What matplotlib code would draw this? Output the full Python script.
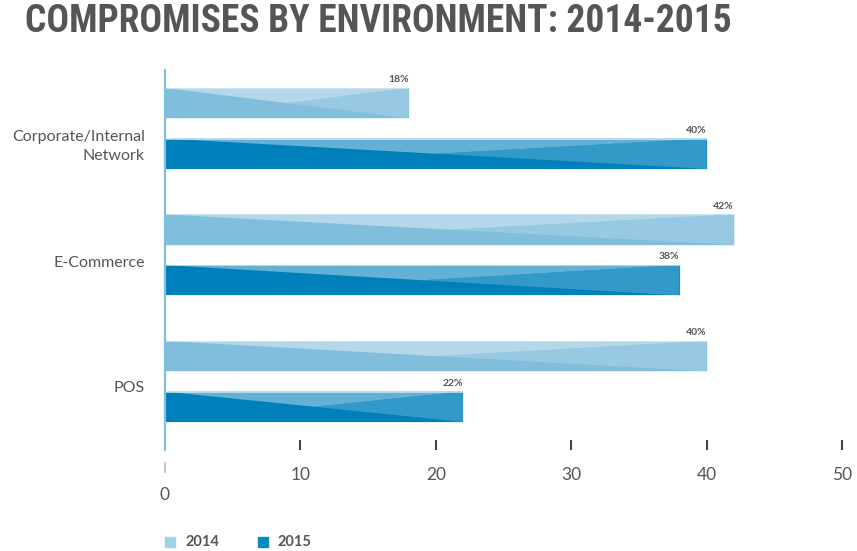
import numpy as np
import matplotlib.pyplot as plt
from matplotlib.patches import Rectangle
from matplotlib.transforms import blended_transform_factory
from matplotlib import font_manager

# --- data ---
categories = ['Corporate/Internal\nNetwork', 'E-Commerce', 'POS']
years = ['2014', '2015']
pct_2014 = [18, 42, 40]
pct_2015 = [40, 38, 22]
xticks = [0, 10, 20, 30, 40, 50]

# shades per series: base, right triangle, top triangle, legend swatch
shades = {
    '2014': ('#80bedc', '#97cae2', '#b4d8ea', '#a0d2e8'),
    '2015': ('#0080bb', '#3399c9', '#64b1d6', '#0a88c2'),
}
text_grey = '#555555'

# pick a condensed face for the headline if one is installed
names = {f.name for f in font_manager.fontManager.ttflist}
title_font = 'DejaVu Sans'
for cand in ['Roboto Condensed', 'Liberation Sans Narrow', 'DejaVu Sans Condensed']:
    if cand in names:
        title_font = cand
        break

fig = plt.figure(figsize=(8.57, 5.51), dpi=100)
ax = fig.add_axes([165 / 857, 1 - 450 / 551, (842 - 165) / 857, 380 / 551])

bar_h = 0.24
offset = 0.2
ypos = np.arange(len(categories))


def x_bar(ax, y, v, cols):
    base, right, top = cols[:3]
    y0, y1 = y - bar_h / 2, y + bar_h / 2   # y0 is the upper edge (inverted axis)
    ax.barh(y, v, height=bar_h, color=base, edgecolor='none', zorder=2)
    # triangles formed by the two diagonals of the bar
    ax.fill([v, v, v / 2], [y0, y1, y], color=right, lw=0, zorder=3)
    ax.fill([0, v, v / 2], [y0, y0, y], color=top, lw=0, zorder=3)
    ax.add_patch(Rectangle((0, y0), v, bar_h, fill=False, ec='#d8ebf5',
                           lw=0.5, zorder=4))
    ax.text(v, y0 - 0.03, f'{v}%', ha='right', va='bottom', fontsize=7.5,
            fontweight='bold', color=text_grey, family='Lato')


for i, y in enumerate(ypos):
    x_bar(ax, y - offset, pct_2014[i], shades['2014'])
    x_bar(ax, y + offset, pct_2015[i], shades['2015'])

ax.set_xlim(0, 50)
ax.set_ylim(2.542, -0.462)

for s in ['top', 'right', 'bottom']:
    ax.spines[s].set_visible(False)
ax.spines['left'].set_color('#7fbfdd')
ax.spines['left'].set_linewidth(1.6)
ax.spines['left'].set_zorder(5)

ax.set_yticks([])
ax.set_xticks(xticks)
ax.set_xticklabels([str(t) for t in xticks], fontsize=12.5, color=text_grey,
                   family='Lato')
ax.tick_params(axis='x', direction='in', length=7, width=1.5, color='#444444',
               pad=12)
zero_tick = ax.xaxis.get_major_ticks()[0]
zero_tick.tick1line.set_visible(False)
zero_tick.set_pad(27)
trans = blended_transform_factory(ax.transData, ax.transAxes)
ax.plot([0, 0], [-0.035, -0.058], transform=trans, color='#bbbbbb', lw=1.2,
        clip_on=False)

# category labels
label_shift = [0.14, 0.06, 0.05]
for i, cat in enumerate(categories):
    ax.text(-1.5, ypos[i] + label_shift[i], cat, ha='right', va='center',
            fontsize=11.5, color=text_grey, family='Lato', linespacing=1.45)

fig.text(25 / 857, 1 - 22 / 551, 'COMPROMISES BY ENVIRONMENT: 2014-2015',
         ha='left', va='center', fontsize=27, fontweight='bold',
         color='#555555', family=title_font)

# legend
for j, yr in enumerate(years):
    x0 = (165 + j * 93) / 857
    fig.patches.append(Rectangle((x0, 1 - 547 / 551), 10 / 857, 10 / 551,
                                 transform=fig.transFigure,
                                 color=shades[yr][3]))
    fig.text(x0 + 20 / 857, 1 - 542 / 551, yr, ha='left', va='center',
             fontsize=10.5, fontweight='bold', color=text_grey, family='Lato')

fig.savefig('out.png', dpi=100)
